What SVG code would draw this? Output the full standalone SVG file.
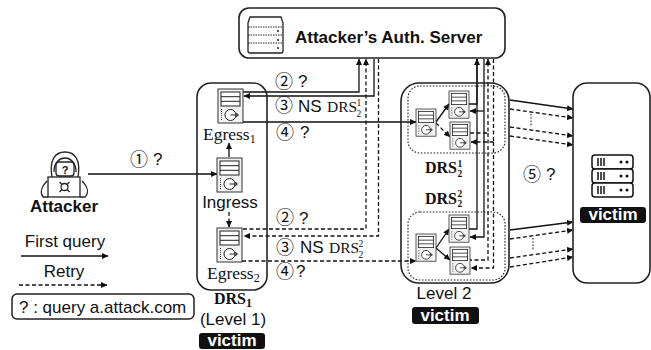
<svg xmlns="http://www.w3.org/2000/svg" width="651" height="350" viewBox="0 0 651 350">
<style>
text{font-family:"Liberation Sans",Arial,sans-serif;fill:#111;font-size:17px}
.s{font-family:"Liberation Serif","DejaVu Serif",serif;font-size:17.5px}
.b{font-weight:bold}
.c{font-family:"Noto Sans CJK JP","DejaVu Sans",sans-serif;font-size:18px}
.m{text-anchor:middle}
.box{fill:none;stroke:#222;stroke-width:1.6}
.dot{fill:none;stroke:#222;stroke-width:1.1;stroke-dasharray:1.600 1.600}
.l{fill:none;stroke:#111;stroke-width:1.3}
.d{fill:none;stroke:#111;stroke-width:1.3;stroke-dasharray:4 2.500}
.a{marker-end:url(#ah)}
.vt{fill:#111}
.vl{fill:#fff;font-weight:bold;text-anchor:middle}
.i{fill:none;stroke:#222;stroke-width:1.300}
.vs{fill:#fff;stroke:#111;stroke-width:1.500}
.t{font-size:9.500px}
</style>
<defs>
<marker id="ah" markerUnits="userSpaceOnUse" markerWidth="7" markerHeight="6" refX="6" refY="3" orient="auto"><path d="M0 0L6.500 3L0 6z" fill="#111"/></marker>
<g id="srv">
<rect x="0" y="0" width="25" height="34" fill="#f2f2f2" stroke="#333" stroke-width="1"/>
<rect x="3" y="3" width="19" height="14" fill="#fff" stroke="#222" stroke-width="1"/>
<path d="M3 7.700H22M3 12.300H22" stroke="#222" stroke-width="1"/>
<path d="M3.500 20V32" stroke="#444" stroke-width="1" stroke-dasharray="1 1"/>
<circle cx="12.500" cy="26" r="5.500" fill="#fff" stroke="#222" stroke-width="1"/>
<path d="M12.500 26H20M18 24L20.500 26L18 28" fill="none" stroke="#222" stroke-width="1"/>
</g>
<g id="srv2"><use href="#srv" transform="scale(0.8)"/></g>
</defs>

<g id="connectors">
<path class="l a" d="M88 174H217"/>
<path class="l a" d="M229 157V143"/>
<path class="d a" d="M229 212V227"/>
<path class="l a" d="M243 92H359V59"/>
<path class="l a" d="M374 59V96H244"/>
<path class="d a" d="M243 229H366V59"/>
<path class="d a" d="M378.500 59V236H244"/>
<path class="l a" d="M243 122H416"/>
<path class="d a" d="M242 261H416"/>
<path class="l a" d="M469 104H477V59"/>
<path class="l" d="M484 59V111"/>
<path class="l a" d="M484 111H470"/>
<path class="d a" d="M470 133H488V59"/>
<path class="d" d="M493.500 59V142"/>
<path class="d a" d="M493.500 142H471"/>
<path class="l" d="M477 59V229H469"/>
<path class="l a" d="M484 111V237H470"/>
<path class="d" d="M488 133V260H470"/>
<path class="d a" d="M493.500 142V268H471"/>
<path class="l a" d="M436 122L449 104"/>
<path class="d a" d="M436 123L450 137"/>
<path class="l a" d="M436 248L449 229"/>
<path class="l a" d="M436 248L450 260"/>
<path class="l a" d="M510 100L573 109"/>
<path class="d a" d="M510 109L573 118"/>
<path class="d a" d="M510 127L573 136"/>
<path class="d a" d="M510 136L573 145"/>
<path class="dot" d="M531 114V127"/>
<path class="l a" d="M510 230L573 222"/>
<path class="d a" d="M510 239L573 230"/>
<path class="d a" d="M510 258L573 249"/>
<path class="d a" d="M510 267L573 257"/>
<path class="dot" d="M533 238V250"/>
<path class="l a" d="M21 256H108"/>
<path class="d a" d="M19 285H107"/>
</g>

<g id="auth-server">
<rect class="box" x="239" y="8" width="266" height="50" rx="10"/>
<path d="M248 23L250 17H281L283 23V51Q283 53 281 53H250Q248 53 248 51Z" fill="#fff" stroke="#222" stroke-width="1.300"/>
<path d="M248 27H283M248 35H283M248 43H283" stroke="#222" stroke-width="1" stroke-dasharray="1.500 1"/>
<circle cx="278" cy="31" r="1" fill="#222"/><circle cx="278" cy="40" r="1" fill="#222"/><circle cx="278" cy="48" r="1" fill="#222"/>
<text class="b" x="295" y="43">Attacker’s Auth. Server</text>
</g>

<g id="attacker">
<path class="i" d="M52 177C49 160 55 152 65 152C75 152 81 160 78 177"/>
<path class="i" d="M54 172C54 162 60 158 65 158C70 158 76 162 76 172"/>
<rect class="i" x="56" y="162" width="18" height="14" rx="3"/>
<text class="b m" x="65" y="174" style="font-size:11px">?</text>
<rect x="48" y="177" width="32" height="20" fill="#fff" stroke="#222" stroke-width="1.300"/>
<path class="i" d="M47 181C41 187 40 193 43 197H48M82 181C88 187 89 193 85 197H80"/>
<circle class="i" cx="64.500" cy="187" r="3.500"/>
<path class="i" d="M59.500 182L62 184.500M69.500 182L67 184.500M59.500 192L62 189.500M69.500 192L67 189.500"/>
<text class="b m" x="64" y="212">Attacker</text>
</g>

<g id="legend">
<text class="m" x="65" y="247">First query</text>
<text class="m" x="64" y="277">Retry</text>
<rect x="12" y="294" width="182" height="25" rx="5" fill="#fff" stroke="#222" stroke-width="1.500"/>
<text x="19" y="313">? : query a.attack.com</text>
</g>

<g id="drs1">
<rect class="box" x="197" y="83" width="70" height="207" rx="14"/>
<use href="#srv" x="218" y="89"/>
<use href="#srv" x="217" y="158"/>
<use href="#srv" x="217" y="228"/>
<text class="s" x="203" y="140">Egress<tspan style="font-size:12px" dy="3">1</tspan></text>
<text class="m" x="230" y="208">Ingress</text>
<text class="s" x="207" y="279">Egress<tspan style="font-size:12px" dy="3">2</tspan></text>
<text class="s b" x="214" y="304" style="font-size:16px">DRS<tspan style="font-size:12px" dy="3">1</tspan></text>
<text class="m" x="233" y="325">(Level 1)</text>
<rect class="vt" x="199" y="333" width="66" height="16" rx="3"/>
<text class="vl" x="232" y="346">victim</text>
</g>

<g id="level2">
<rect class="box" x="401" y="83" width="108" height="200" rx="18"/>
<rect class="dot" x="408" y="86" width="97" height="67" rx="12"/>
<rect class="dot" x="408" y="212" width="97" height="68" rx="12"/>
<use href="#srv2" x="416" y="109"/>
<use href="#srv2" x="449" y="91"/>
<use href="#srv2" x="450" y="122"/>
<use href="#srv2" x="416" y="234"/>
<use href="#srv2" x="449" y="215"/>
<use href="#srv2" x="450" y="247"/>
<text class="s b" x="425" y="173" style="font-size:16px">DRS<tspan class="t" x="457.500" dy="-6">1</tspan><tspan class="t" x="457.500" dy="10">2</tspan></text>
<text class="s b" x="425" y="204" style="font-size:16px">DRS<tspan class="t" x="457.500" dy="-7">2</tspan><tspan class="t" x="457.500" dy="10">2</tspan></text>
<text class="m" x="444" y="299">Level 2</text>
<rect class="vt" x="412" y="307" width="67" height="17" rx="3"/>
<text class="vl" x="445" y="321">victim</text>
</g>

<g id="victim">
<rect class="box" x="573" y="83" width="77" height="200" rx="14"/>
<rect class="vs" x="592" y="155" width="41" height="14" rx="3"/>
<rect class="vs" x="592" y="169" width="41" height="14" rx="3"/>
<rect class="vs" x="592" y="183" width="41" height="14" rx="3"/>
<path d="M598 158V166M601 158V166M604 158V166M598 172V180M601 172V180M604 172V180M598 186V194M601 186V194M604 186V194" stroke="#111" stroke-width="1.500"/>
<path d="M621 162h0M627 162h0M621 176h0M627 176h0M621 190h0M627 190h0" stroke="#111" stroke-width="3" stroke-linecap="round"/>
<rect class="vt" x="580" y="207" width="66" height="16" rx="3"/>
<text class="vl" x="613" y="220">victim</text>
</g>

<g id="labels">
<text class="c" x="130" y="166">①</text><text x="153" y="165">?</text>
<text class="c" x="275" y="88">②</text><text x="298" y="87">?</text>
<text class="c" x="275" y="112">③</text><text x="298" y="112">NS</text>
<text class="s" x="327" y="112" style="font-size:15.500px">DRS<tspan class="t" x="356.500" dy="-6">1</tspan><tspan class="t" x="356.500" dy="10.500">2</tspan></text>
<text class="c" x="276" y="139">④</text><text x="300" y="138">?</text>
<text class="c" x="276" y="224">②</text><text x="299" y="224">?</text>
<text class="c" x="276" y="254">③</text><text x="300" y="253">NS</text>
<text class="s" x="329" y="253" style="font-size:15.500px">DRS<tspan class="t" x="358.500" dy="-6">2</tspan><tspan class="t" x="358.500" dy="10.500">2</tspan></text>
<text class="c" x="276" y="278">④</text><text x="296" y="277">?</text>
<text class="c" x="523" y="181">⑤</text><text x="546" y="180">?</text>
</g>
</svg>
